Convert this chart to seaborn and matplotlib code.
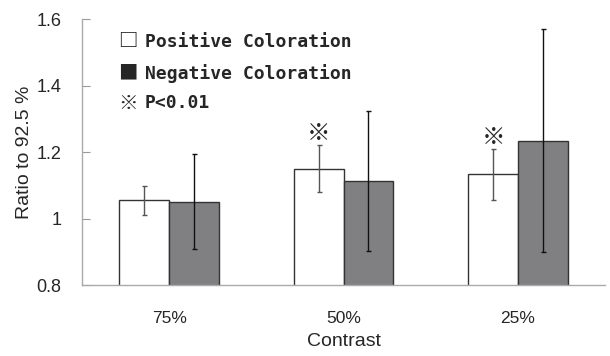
import matplotlib
matplotlib.use("Agg")
import matplotlib.pyplot as plt
import seaborn as sns
import pandas as pd
import numpy as np

categories = ["75%", "50%", "25%"]
groups = ["Positive Coloration", "Negative Coloration"]
positive_vals = [1.055, 1.150, 1.133]
positive_err = [0.043, 0.071, 0.076]
negative_vals = [1.050, 1.112, 1.234]
negative_err = [0.143, 0.211, 0.335]
significant = [False, True, True]
yticks = [0.8, 1.0, 1.2, 1.4, 1.6]
ytick_labels = ["0.8", "1", "1.2", "1.4", "1.6"]
legend_symbols = ["□", "■", "※"]
legend_texts = ["Positive Coloration", "Negative Coloration", "P<0.01"]

sns.set_style("white")
plt.rcParams['font.family'] = ['Liberation Sans', 'DejaVu Sans']

df = pd.DataFrame({
    "Contrast": categories * 2,
    "Group": [groups[0]] * 3 + [groups[1]] * 3,
    "Value": positive_vals + negative_vals,
})

fig = plt.figure(figsize=(6.1, 3.56), dpi=100)
ax = fig.add_axes([0.1344, 0.1994, 0.8576, 0.7472])

sns.barplot(data=df, x="Contrast", y="Value", hue="Group", order=categories,
            hue_order=groups, palette=["#ffffff", "#807f82"], width=0.57,
            edgecolor="#333333", linewidth=1.0, errorbar=None, ax=ax, legend=False,
            gap=0)

patches = [p for p in ax.patches if p.get_width() > 0]
patches = sorted(patches, key=lambda p: p.get_x())
vals_all = []
for i in range(3):
    vals_all.append((positive_vals[i], positive_err[i], "#555555"))
    vals_all.append((negative_vals[i], negative_err[i], "#111111"))
for p, (v, e, c) in zip(patches, vals_all):
    xc = p.get_x() + p.get_width() / 2
    ax.errorbar(xc, v, yerr=e, fmt="none", ecolor=c, elinewidth=1.0,
                capsize=1.8, capthick=1.0, zorder=5)

for i, sig in enumerate(significant):
    if sig:
        p = patches[2 * i]
        xc = p.get_x() + p.get_width() / 2
        ax.text(xc, positive_vals[i] + positive_err[i] + 0.035, "※",
                ha="center", va="center", fontsize=17,
                family=['Noto Sans CJK JP', 'DejaVu Sans'], zorder=6)

ax.set_ylim(0.8, 1.6)
ax.set_xlim(-0.5, 2.5)
ax.set_yticks(yticks)
ax.set_yticklabels(ytick_labels)
ax.tick_params(axis="y", direction="in", length=6, width=0.8, color="#999999",
               labelsize=13, pad=15, left=True)
ax.tick_params(axis="x", length=0, labelsize=12.5, pad=19)
for s in ["top", "right"]:
    ax.spines[s].set_visible(False)
for s in ["left", "bottom"]:
    ax.spines[s].set_color("#aaaaaa")
    ax.spines[s].set_linewidth(1.0)

ax.set_xlabel("Contrast", fontsize=14, labelpad=5)
ax.set_ylabel("Ratio to 92.5 %", fontsize=14, labelpad=2)

ys = [0.914, 0.797, 0.684]
for sym, t, y in zip(legend_symbols, legend_texts, ys):
    ax.text(0.069, y, sym, transform=ax.transAxes, ha="left", va="center",
            fontsize=14, fontweight="bold",
            family=['Noto Sans CJK JP', 'DejaVu Sans'])
    ax.text(0.12, y, t, transform=ax.transAxes, ha="left", va="center",
            fontsize=13, fontweight="bold",
            family=['DejaVu Sans Mono', 'DejaVu Sans'])

fig.savefig("out.png", dpi=100)
